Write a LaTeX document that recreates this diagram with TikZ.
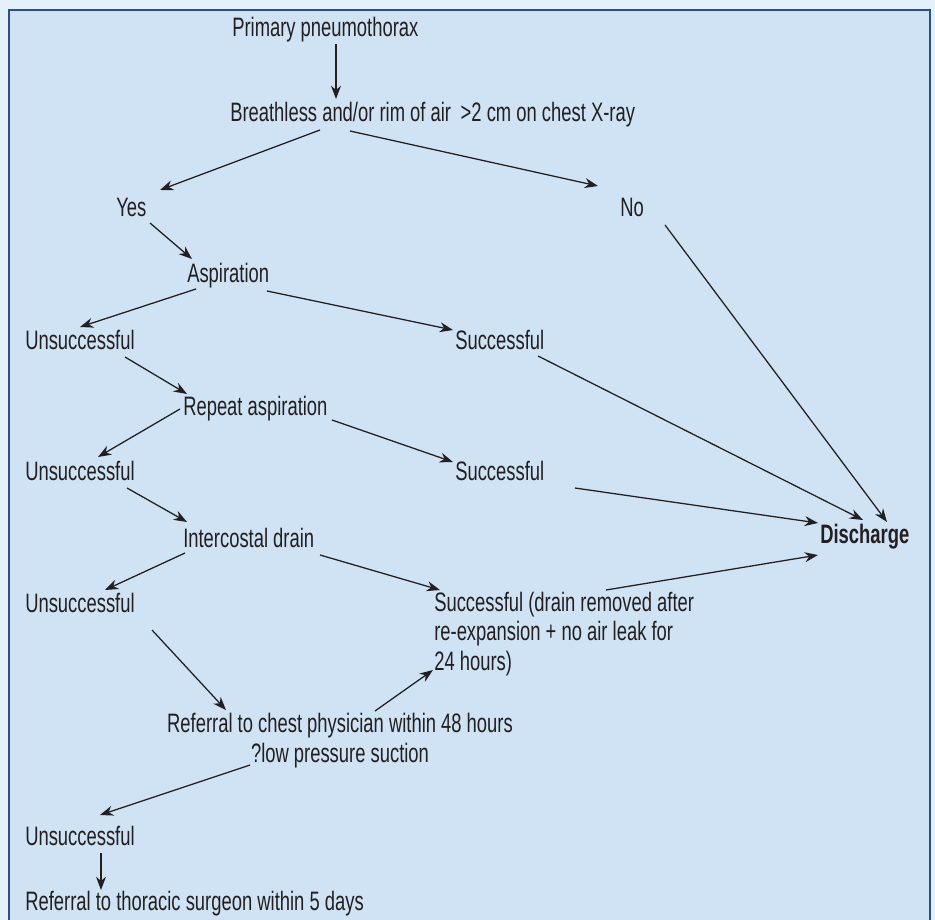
\documentclass[tikz,border=0pt]{standalone}
\usepackage{fontspec}
\setmainfont{Liberation Sans}[FakeStretch=0.69]
\usetikzlibrary{arrows.meta,calc}

\definecolor{outerbg}{HTML}{E4F0FA}
\definecolor{panelbg}{HTML}{CFE3F4}
\definecolor{panelrule}{HTML}{2A4E92}
\definecolor{ink}{HTML}{231F20}

\tikzset{
  lbl/.style={anchor=base west, inner sep=0pt, text=ink, font=\fontsize{20}{22}\selectfont},
  arr/.style={->, draw=ink, line width=0.95pt},
}

\begin{document}
\begin{tikzpicture}[x=0.75pt, y=-0.75pt, >={Stealth[length=10pt,width=7.5pt]}]
    % 1. Page and panel
    \useasboundingbox (0,0) rectangle (935,920);
    \fill[outerbg] (0,0) rectangle (935,920);
    \clip (0,0) rectangle (935,920);
    \draw[panelrule, line width=1.5pt, fill=panelbg] (9,10) rectangle (930,950);

    % 2. Steps of the chart
    \node[lbl] (prim) at (232,37) {Primary pneumothorax};
    \node[lbl] (br) at (230,122) {Breathless and/or rim of air \,>2 cm on chest X-ray};
    \node[lbl] (yes) at (116,216) {Yes};
    \node[lbl] (no) at (620,216) {No};
    \node[lbl] (asp) at (187,282) {Aspiration};
    \node[lbl] (uns1) at (25,349) {Unsuccessful};
    \node[lbl] (suc1) at (455,349) {Successful};
    \node[lbl] (rep) at (183,415) {Repeat aspiration};
    \node[lbl] (uns2) at (25,480) {Unsuccessful};
    \node[lbl] (suc2) at (455,480) {Successful};
    \node[lbl] (icd) at (183,547) {Intercostal drain};
    \node[lbl] (uns3) at (25,612) {Unsuccessful};
    \node[lbl, align=left] (drain) at (434,670)
        {Successful (drain removed after\\re-expansion + no air leak for\\24 hours)};
    \node[lbl, font=\fontsize{20}{22}\selectfont\bfseries] (dis) at (820,543) {Discharge};
    \node[lbl, anchor=base, align=center] (chest) at (340,762)
        {Referral to chest physician within 48 hours\\?low pressure suction};
    \node[lbl] (uns4) at (25,845) {Unsuccessful};
    \node[lbl] (thor) at (25,910) {Referral to thoracic surgeon within 5 days};

    % 3. Connectors, left branch
    \draw[arr] ($(prim.base west)+(104,7)$) -- ($(br.base west)+(106,-23)$);
    \draw[arr] ($(br.base west)+(90,8)$) -- ($(yes.base west)+(44,-26)$);
    \draw[arr] ($(br.base west)+(120,9)$) -- ($(no.base west)+(-22,-30)$);
    \draw[arr] ($(yes.base west)+(34,7)$) -- ($(asp.base west)+(5,-23)$);
    \draw[arr] ($(asp.base west)+(9,7)$) -- ($(uns1.base west)+(55,-22)$);
    \draw[arr] ($(asp.base west)+(80,9)$) -- ($(suc1.base west)+(-2,-19)$);
    \draw[arr] ($(uns1.base west)+(100,8)$) -- ($(rep.base west)+(4,-21)$);
    \draw[arr] ($(rep.base west)+(-3,-6)$) -- ($(uns2.base west)+(73,-23)$);
    \draw[arr] ($(rep.base west)+(149,5)$) -- ($(suc2.base west)+(-2,-18)$);
    \draw[arr] ($(uns2.base west)+(102,8)$) -- ($(icd.base west)+(4,-25)$);
    \draw[arr] ($(icd.base west)+(2,6)$) -- ($(uns3.base west)+(80,-22)$);
    \draw[arr] ($(icd.base west)+(137,8)$) -- ($(drain.base west)+(6,-80)$);
    \draw[arr] ($(uns3.base west)+(127,18)$) -- ($(chest.base)+(-114,-52)$);
    \draw[arr] ($(chest.base)+(35,-51)$) -- ($(drain.base west)+(-1,0)$);
    \draw[arr] ($(chest.base)+(-90,3)$) -- ($(uns4.base west)+(75,-30)$);
    \draw[arr] ($(uns4.base west)+(76,8)$) -- ($(thor.base west)+(76,-20)$);

    % 4. Connectors into discharge
    \draw[arr] ($(no.base west)+(45,9)$) -- ($(dis.base west)+(67,-21)$);
    \draw[arr] ($(suc1.base west)+(83,7)$) -- ($(dis.base west)+(43,-23)$);
    \draw[arr] ($(suc2.base west)+(120,8)$) -- ($(dis.base west)+(-2,-20)$);
    \draw[arr] ($(drain.base west)+(172,-80)$) -- ($(dis.base west)+(-2,12)$);
\end{tikzpicture}
\end{document}
